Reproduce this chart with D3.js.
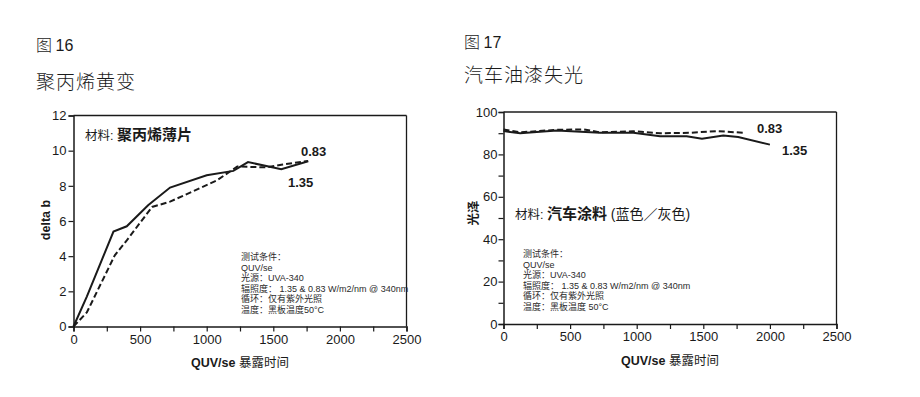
<!DOCTYPE html>
<html><head><meta charset="utf-8">
<script src="https://cdn.jsdelivr.net/npm/d3@7"></script>
<style>
html,body{margin:0;padding:0;background:#fff;}
svg{display:block;}
.lat{font-family:"Liberation Sans",Arial,Helvetica,sans-serif;}
.cjk{font-family:"Liberation Sans","Noto Sans CJK SC",sans-serif;}
</style></head>
<body>
<svg id="c" width="920" height="397"></svg>
<script>
// ---------- data ----------
const xTickValues = [0, 250, 500, 750, 1000, 1250, 1500, 1750, 2000, 2250, 2500];
const xTickLabels = ["0", "", "500", "", "1000", "", "1500", "", "2000", "", "2500"];

// Figure 16: polypropylene yellowing (delta b)
const fig16Yticks = [0, 2, 4, 6, 8, 10, 12];
const fig16Hours135 = [0, 100, 300, 400, 560, 725, 1000, 1200, 1310, 1560, 1762];
const fig16Delta135 = [0, 1.7, 5.4, 5.7, 6.9, 7.9, 8.6, 8.85, 9.35, 8.95, 9.4];
const fig16Hours083 = [0, 100, 310, 400, 590, 725, 900, 1075, 1230, 1450, 1560, 1762];
const fig16Delta083 = [0, 0.8, 4.05, 4.9, 6.8, 7.1, 7.7, 8.3, 9.1, 9.05, 9.2, 9.42];

// Figure 17: automotive paint gloss loss
const fig17Yticks = [0, 10, 20, 30, 40, 50, 60, 70, 80, 90, 100];
const fig17Ylabels = ["0", "", "20", "", "40", "", "60", "", "80", "", "100"];
const fig17Hours135 = [0, 125, 400, 725, 975, 1175, 1375, 1490, 1650, 1762, 2000];
const fig17Gloss135 = [91, 90, 91.3, 90.2, 90.2, 88.6, 88.6, 87.4, 88.9, 88.2, 84.6];
const fig17Hours083 = [0, 125, 400, 600, 725, 975, 1175, 1400, 1600, 1800];
const fig17Gloss083 = [91.7, 90.4, 91.6, 91.8, 90.4, 90.9, 90.0, 90.2, 91.0, 90.2];

const conditions16 = ["测试条件：", "QUV/se", "光源：UVA-340", "辐照度： 1.35 & 0.83 W/m2/nm @ 340nm", "循环：仅有紫外光照", "温度：黑板温度50°C"];
const conditions17 = ["测试条件：", "QUV/se", "光源：UVA-340", "辐照度： 1.35 & 0.83 W/m2/nm @ 340nm", "循环：仅有紫外光照", "温度：黑板温度 50°C"];

// ---------- drawing ----------
const svg = d3.select("#c");
svg.append("rect").attr("width", 920).attr("height", 397).attr("fill", "#fff");
const ink = "#1a1a1a";

function chart(o) {
  const x = d3.scaleLinear().domain([0, 2500]).range([o.x0, o.x1]);
  const y = d3.scaleLinear().domain([0, o.ymax]).range([o.y0, o.y1]);
  const g = svg.append("g");

  // frame (top & right)
  g.append("line").attr("x1", o.x0).attr("x2", o.x1).attr("y1", o.y1).attr("y2", o.y1)
    .attr("stroke", o.topColor).attr("stroke-width", o.topWidth);
  g.append("line").attr("x1", o.x1).attr("x2", o.x1).attr("y1", o.y1).attr("y2", o.y0)
    .attr("stroke", ink).attr("stroke-width", 1.3);

  // x axis
  const xa = g.append("g").attr("transform", `translate(0,${o.y0})`)
    .call(d3.axisBottom(x).tickValues(xTickValues).tickSize(5).tickPadding(3)
      .tickFormat((d, i) => xTickLabels[i]));
  // y axis
  const ya = g.append("g").attr("transform", `translate(${o.x0},0)`)
    .call(d3.axisLeft(y).tickValues(o.yticks).tickSize(5).tickPadding(o.ypad)
      .tickFormat((d, i) => o.ylabels[i]));
  [xa, ya].forEach(a => {
    a.select(".domain").attr("stroke", ink).attr("stroke-width", 1.5);
    a.selectAll(".tick line").attr("stroke", ink).attr("stroke-width", 1.2);
    a.selectAll(".tick text").attr("class", "lat").attr("font-size", 13).attr("fill", ink);
  });

  const line = d3.line().x(d => x(d[0])).y(d => y(d[1]));
  const s135 = o.h135.map((h, i) => [h, o.v135[i]]);
  const s083 = o.h083.map((h, i) => [h, o.v083[i]]);
  g.append("path").attr("d", line(s083)).attr("fill", "none").attr("stroke", ink)
    .attr("stroke-width", 2).attr("stroke-dasharray", "6,3");
  g.append("path").attr("d", line(s135)).attr("fill", "none").attr("stroke", ink)
    .attr("stroke-width", 2);

  // series labels
  g.append("text").attr("class", "lat").attr("x", o.lab083[0]).attr("y", o.lab083[1])
    .attr("font-size", 13).attr("font-weight", "bold").attr("fill", ink).text("0.83");
  g.append("text").attr("class", "lat").attr("x", o.lab135[0]).attr("y", o.lab135[1])
    .attr("font-size", 13).attr("font-weight", "bold").attr("fill", ink).text("1.35");

  // headings
  g.append("text").attr("x", o.hx).attr("y", o.fy).attr("fill", ink).attr("font-size", 16)
    .call(t => {
      t.append("tspan").attr("font-family", "Noto Sans CJK SC").attr("font-weight", 300).text("图 ");
      t.append("tspan").attr("class", "lat").text(o.fig);
    });
  g.append("text").attr("x", o.hx).attr("y", o.ty).attr("fill", ink).attr("font-size", 19)
    .attr("font-family", "Noto Sans CJK SC").attr("font-weight", 300).attr("letter-spacing", 1).text(o.title);

  // axis titles
  g.append("text").attr("x", (o.x0 + o.x1) / 2).attr("y", o.xty).attr("text-anchor", "middle")
    .attr("fill", ink).attr("font-size", 12.5).call(t => {
      t.append("tspan").attr("class", "lat").attr("font-weight", "bold").text("QUV/se ");
      t.append("tspan").attr("font-family", "Noto Sans CJK SC").text("暴露时间");
    });
  g.append("text").attr("transform", `translate(${o.ylx},${o.yly}) rotate(-90)`)
    .attr("text-anchor", "middle").attr("fill", ink).attr("font-size", 12.5)
    .attr("font-weight", "bold").attr("class", "cjk").text(o.ylab);

  // material label
  const m = g.append("text").attr("x", o.mx).attr("y", o.my).attr("fill", ink).attr("class", "cjk");
  m.append("tspan").attr("font-size", 12.5).text("材料: ");
  m.append("tspan").attr("font-size", 15).attr("font-weight", "bold").text(o.material);
  if (o.material2) m.append("tspan").attr("font-size", 14).text(o.material2);

  // conditions
  const c = g.append("g").attr("class", "cjk").attr("font-size", 9).attr("fill", "#2a2a2a");
  o.cond.forEach((s, i) => c.append("text").attr("x", o.cx).attr("y", o.cy + i * 10.6).text(s));
}

chart({
  x0: 73.5, x1: 406.5, y0: 326.5, y1: 115.5, ymax: 12,
  yticks: fig16Yticks, ylabels: fig16Yticks.map(String), ypad: 2,
  topColor: ink, topWidth: 1.5,
  h135: fig16Hours135, v135: fig16Delta135, h083: fig16Hours083, v083: fig16Delta083,
  lab083: [301, 156], lab135: [288, 187],
  hx: 36, fy: 51, fig: "16", ty: 89, title: "聚丙烯黄变",
  xty: 367, ylx: 50, yly: 220, ylab: "delta b",
  mx: 85, my: 140, material: "聚丙烯薄片",
  cx: 241, cy: 260, cond: conditions16
});

chart({
  x0: 503.5, x1: 836.5, y0: 324, y1: 112, ymax: 100,
  yticks: fig17Yticks, ylabels: fig17Ylabels, ypad: 1,
  topColor: "#555", topWidth: 2,
  h135: fig17Hours135, v135: fig17Gloss135, h083: fig17Hours083, v083: fig17Gloss083,
  lab083: [757, 133], lab135: [782, 155],
  hx: 464, fy: 48, fig: "17", ty: 82, title: "汽车油漆失光",
  xty: 365, ylx: 478, yly: 213, ylab: "光泽",
  mx: 515, my: 219, material: "汽车涂料", material2: " (蓝色／灰色)",
  cx: 523, cy: 257, cond: conditions17
});
</script>
</body></html>
